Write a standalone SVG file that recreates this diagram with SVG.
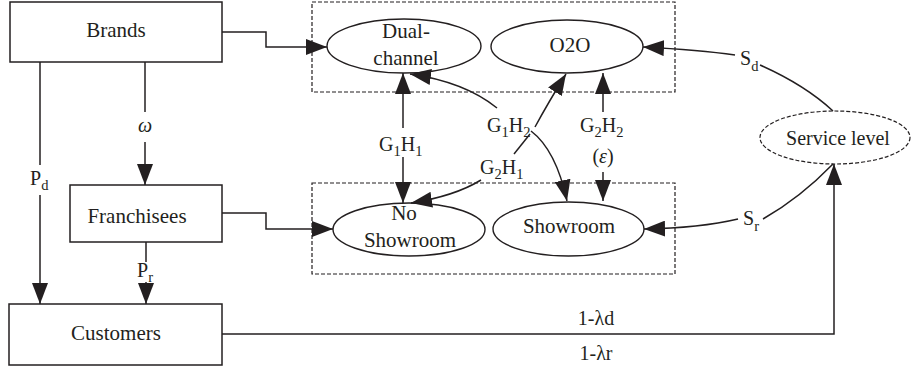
<svg xmlns="http://www.w3.org/2000/svg" width="911" height="370" viewBox="0 0 911 370">
  <style>
    text { font-family: "Liberation Serif", "DejaVu Serif", serif; font-size: 20px; fill: #231f20; }
    .node-label { font-size: 21px; }
    .mid { text-anchor: middle; }
    .box { fill: #ffffff; stroke: #231f20; stroke-width: 1.5; }
    .ell { fill: #ffffff; stroke: #231f20; stroke-width: 1.4; }
    .dash { fill: none; stroke: #231f20; stroke-width: 1.2; stroke-dasharray: 4 2; }
    .ell-dash { fill: #ffffff; stroke: #231f20; stroke-width: 1.2; stroke-dasharray: 4 2; }
    .wire { fill: none; stroke: #231f20; stroke-width: 1.5; }
    .arr { marker-end: url(#head); }
    .sub { font-size: 14.5px; }
  </style>
  <defs>
    <marker id="head" markerUnits="userSpaceOnUse" markerWidth="22" markerHeight="16" refX="21" refY="8" orient="auto">
      <path d="M0,0 L21,8 L0,16 Z" fill="#231f20"/>
    </marker>
  </defs>

  <!-- dashed channel frames -->
  <g id="frame-top">
    <rect class="dash" x="312" y="2" width="363" height="90"/>
  </g>
  <g id="frame-bottom">
    <rect class="dash" x="312" y="183" width="363" height="91"/>
  </g>

  <!-- actors -->
  <g id="brands">
    <rect class="box" x="10" y="2" width="212" height="60"/>
    <text class="mid node-label" x="116" y="37">Brands</text>
  </g>
  <g id="franchisees">
    <rect class="box" x="70" y="185" width="152" height="57"/>
    <text class="mid node-label" x="137" y="223">Franchisees</text>
  </g>
  <g id="customers">
    <rect class="box" x="9" y="304" width="213" height="61"/>
    <text class="mid node-label" x="116" y="340">Customers</text>
  </g>

  <!-- channel modes -->
  <g id="dual-channel">
    <ellipse class="ell" cx="404" cy="46" rx="77" ry="27"/>
    <text class="mid node-label" x="406" y="38">Dual-</text>
    <text class="mid node-label" x="406" y="65">channel</text>
  </g>
  <g id="o2o">
    <ellipse class="ell" cx="567" cy="46.5" rx="76" ry="26.5"/>
    <text class="mid node-label" x="570" y="52">O2O</text>
  </g>
  <g id="no-showroom">
    <ellipse class="ell" cx="409" cy="229.5" rx="76" ry="26.5"/>
    <text class="mid node-label" x="404" y="220">No</text>
    <text class="mid node-label" x="410" y="247">Showroom</text>
  </g>
  <g id="showroom">
    <ellipse class="ell" cx="568.5" cy="229" rx="75.5" ry="27"/>
    <text class="mid node-label" x="569" y="233">Showroom</text>
  </g>
  <g id="service-level">
    <ellipse class="ell-dash" cx="835" cy="137.5" rx="75" ry="26.5"/>
    <text class="mid" x="838" y="145">Service level</text>
  </g>

  <!-- connectors -->
  <g id="connectors">
    <path class="wire arr" d="M222,32 H266 V47 H327"/>
    <path class="wire arr" d="M222,213 H266 V229 H333"/>
    <path class="wire" d="M40,62 V165"/>
    <path class="wire arr" d="M40,195 V304"/>
    <path class="wire" d="M145,62 V112"/>
    <path class="wire arr" d="M145,142 V185"/>
    <path class="wire" d="M146,242 V262"/>
    <path class="wire arr" d="M146,282 V304"/>
    <path class="wire arr" d="M222,334 H834 V164"/>

    <!-- G1H1 -->
    <path class="wire arr" d="M403,128 V73"/>
    <path class="wire arr" d="M403,157 V203"/>
    <!-- G2H2 -->
    <path class="wire arr" d="M603,112 V73"/>
    <path class="wire arr" d="M603,172 V201"/>
    <!-- G1H2 : dual-channel and showroom -->
    <path class="wire arr" d="M497,108 Q465,82 410,74"/>
    <path class="wire arr" d="M531,131 Q556,150 567,201"/>
    <!-- G2H1 : no-showroom and O2O -->
    <path class="wire" d="M514,154 L530,134"/>
    <path class="wire arr" d="M535,127 Q548,103 566,74"/>
    <path class="wire arr" d="M481,180 Q455,196 411,203"/>

    <!-- service level links -->
    <path class="wire" d="M833,111 Q805,85 760,65"/>
    <path class="wire arr" d="M735,55 Q700,50 643,47"/>
    <path class="wire" d="M833,164 Q800,198 763,219"/>
    <path class="wire arr" d="M738,219 Q700,228 644,229"/>
  </g>

  <!-- connector labels -->
  <g id="labels">
    <text class="mid" x="145" y="132" font-style="italic">ω</text>
    <text x="30" y="185">P<tspan class="sub" dy="5">d</tspan></text>
    <text x="137" y="277">P<tspan class="sub" dy="5">r</tspan></text>
    <text x="379" y="151">G<tspan class="sub" dy="5">1</tspan><tspan dy="-5">H</tspan><tspan class="sub" dy="5">1</tspan></text>
    <text x="487" y="132">G<tspan class="sub" dy="5">1</tspan><tspan dy="-5">H</tspan><tspan class="sub" dy="5">2</tspan></text>
    <text x="480" y="174">G<tspan class="sub" dy="5">2</tspan><tspan dy="-5">H</tspan><tspan class="sub" dy="5">1</tspan></text>
    <text x="580" y="132">G<tspan class="sub" dy="5">2</tspan><tspan dy="-5">H</tspan><tspan class="sub" dy="5">2</tspan></text>
    <text class="mid" x="603" y="163">(<tspan font-style="italic">ε</tspan>)</text>
    <text x="740" y="65">S<tspan class="sub" dy="6">d</tspan></text>
    <text x="743" y="225">S<tspan class="sub" dy="6">r</tspan></text>
    <text class="mid" x="596" y="325">1-λd</text>
    <text class="mid" x="596" y="360">1-λr</text>
  </g>
</svg>
